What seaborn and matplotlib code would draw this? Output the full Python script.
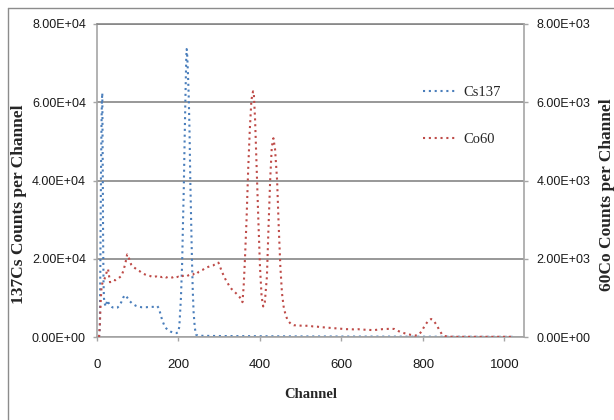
import matplotlib
matplotlib.use("Agg")
import matplotlib.pyplot as plt
import seaborn as sns
from matplotlib.ticker import FuncFormatter, FixedLocator
from matplotlib.lines import Line2D

# Cs-137 spectrum (left axis), counts per channel
cs_channel = [5, 7, 8, 9, 10, 11, 12, 13, 14, 15, 16, 17, 19, 22, 25, 28, 32,
              36, 40, 45, 50, 55, 60, 64, 68, 72, 76, 80, 85, 90, 95, 100, 110,
              120, 130, 140, 148, 152, 156, 160, 165, 170, 175, 180, 185, 190,
              195, 199, 202, 206, 209, 211, 213, 215, 217, 219, 220, 221, 223,
              225, 227, 229, 231, 233, 235, 237, 240, 243, 248, 260, 300, 400,
              500, 600, 700, 800, 900, 1020]
cs_counts = [0, 2500, 15000, 30000, 44000, 54000, 60500, 62400, 45000, 25000,
             14000, 10000, 8500, 7800, 9400, 8800, 8000, 7700, 7500, 7400, 7500,
             8000, 9000, 10000, 10700, 10400, 9800, 9200, 8700, 8300, 8000, 7800,
             7600, 7600, 7700, 7700, 7900, 7300, 5800, 4300, 3000, 2200, 1700,
             1400, 1200, 1000, 1000, 1200, 2600, 10000, 19000, 29000, 38000,
             50000, 61000, 71000, 73600, 73000, 68000, 62000, 53000, 40000,
             30000, 20000, 12000, 6500, 2400, 600, 350, 300, 250, 200, 150, 120,
             100, 80, 60, 40]

# Co-60 spectrum (right axis), counts per channel
co_channel = [5, 7, 9, 11, 13, 16, 19, 22, 25, 27, 29, 32, 36, 40, 45, 50, 55,
              60, 65, 70, 74, 77, 80, 84, 88, 92, 96, 100, 105, 110, 115, 120,
              125, 130, 135, 140, 145, 150, 155, 160, 165, 170, 175, 180, 185,
              190, 195, 200, 205, 210, 215, 220, 225, 230, 235, 240, 245, 250,
              255, 260, 265, 270, 275, 280, 285, 290, 295, 298, 302, 306, 310,
              315, 320, 325, 330, 335, 340, 345, 350, 354, 357, 360, 363, 367,
              371, 375, 379, 383, 385, 388, 392, 396, 400, 404, 408, 412, 417,
              421, 425, 429, 433, 437, 442, 446, 450, 454, 458, 462, 467, 471,
              477, 483, 490, 500, 510, 520, 530, 540, 550, 560, 570, 580, 590,
              600, 610, 620, 630, 640, 650, 660, 670, 680, 690, 700, 710, 720,
              730, 740, 750, 760, 770, 780, 790, 797, 805, 812, 820, 826, 834,
              840, 846, 852, 860, 880, 950, 1020]
co_counts = [0, 300, 900, 1250, 1370, 1420, 1500, 1600, 1700, 1740, 1600, 1400,
             1430, 1460, 1450, 1480, 1520, 1560, 1700, 1900, 2110, 2080, 1950,
             1850, 1800, 1770, 1740, 1700, 1680, 1640, 1610, 1590, 1570, 1560,
             1540, 1530, 1550, 1520, 1540, 1530, 1550, 1520, 1540, 1530, 1520,
             1550, 1530, 1540, 1520, 1560, 1570, 1550, 1580, 1600, 1590, 1640,
             1620, 1670, 1700, 1720, 1760, 1780, 1800, 1820, 1830, 1860, 1870,
             1900, 1800, 1680, 1590, 1480, 1390, 1300, 1230, 1180, 1130, 1080,
             1020, 960, 890, 1300, 1970, 2990, 4270, 5290, 6060, 6280, 6200,
             5550, 4270, 2990, 1800, 1030, 780, 900, 1540, 2820, 4010, 4860,
             5080, 4800, 4010, 2820, 1800, 1120, 780, 600, 450, 390, 320, 300,
             300, 290, 285, 290, 270, 265, 250, 245, 235, 225, 220, 210, 200,
             200, 195, 200, 190, 185, 180, 175, 190, 200, 205, 210, 205, 150,
             110, 80, 55, 35, 60, 150, 300, 400, 460, 420, 300, 180, 80, 30, 10,
             5, 5, 5]

x_ticks = [0, 200, 400, 600, 800, 1000]
left_ticks = [0, 20000, 40000, 60000, 80000]
right_ticks = [0, 2000, 4000, 6000, 8000]

BLUE = "#4a7ebb"
RED = "#be4b48"
GRID = "#868686"
SPINE = "#a6a6a6"
SERIF = ["Liberation Serif", "DejaVu Serif"]
TICK_SIZE = 9

sns.set_style("white")
plt.rcParams["font.family"] = ["Liberation Sans", "DejaVu Sans"]

W, H = 614, 420
fig = plt.figure(figsize=(W / 100, H / 100), dpi=100)
ax = fig.add_axes([97 / W, 1 - 337 / H, (524 - 97) / W, (337 - 24) / H])
ax2 = ax.twinx()

dots = (0, (1, 1.8))
sns.lineplot(x=cs_channel, y=cs_counts, ax=ax, color=BLUE, linewidth=1.5,
             linestyle=dots, label="Cs137", legend=False)
sns.lineplot(x=co_channel, y=co_counts, ax=ax2, color=RED, linewidth=1.5,
             linestyle=dots, label="Co60", legend=False)

ax.set_xlim(0, 1048)
ax.set_ylim(0, 80000)
ax2.set_ylim(0, 8000)

sci = FuncFormatter(lambda v, _: f"{v:.2E}")
ax.xaxis.set_major_locator(FixedLocator(x_ticks))
ax.yaxis.set_major_locator(FixedLocator(left_ticks))
ax2.yaxis.set_major_locator(FixedLocator(right_ticks))
ax.yaxis.set_major_formatter(sci)
ax2.yaxis.set_major_formatter(sci)

ax.yaxis.grid(True, color=GRID, linewidth=1.2)
ax.xaxis.grid(False)
ax2.grid(False)

for s in ("top", "right"):
    ax.spines[s].set_visible(False)
for s in ("left", "bottom"):
    ax.spines[s].set_color(SPINE)
    ax.spines[s].set_linewidth(1.2)
for s in ("left", "top", "bottom"):
    ax2.spines[s].set_visible(False)
ax2.spines["right"].set_color(SPINE)
ax2.spines["right"].set_linewidth(1.2)
ax2.axhline(8000, color=GRID, linewidth=1.2, clip_on=False)

ax.set_xlabel("")
ax.set_ylabel("")
ax2.set_ylabel("")

ax.tick_params(axis="y", direction="out", length=3, width=1, color=SPINE,
               labelsize=TICK_SIZE, pad=5, labelcolor="#1a1a1a", left=True)
ax.tick_params(axis="x", direction="out", length=3, width=1, color=SPINE,
               labelsize=TICK_SIZE + 0.5, pad=12.5, labelcolor="#1a1a1a",
               bottom=True)
ax2.tick_params(axis="y", direction="out", length=3, width=1, color=SPINE,
                labelsize=TICK_SIZE, pad=6, labelcolor="#1a1a1a", right=True)

# axis titles
fig.text(311 / W, 1 - 395 / H, "Channel", ha="center", va="center",
         family=SERIF, weight="bold", fontsize=10.5)
fig.text(19 / W, 1 - 204 / H, "137Cs Counts per Channel", ha="center",
         va="center", rotation=90, family=SERIF, weight="bold", fontsize=12.5)
fig.text(607 / W, 1 - 195 / H, "60Co Counts per Channel", ha="center",
         va="center", rotation=90, family=SERIF, weight="bold", fontsize=12.5)

# legend
handles = [Line2D([], [], color=BLUE, linewidth=1.5, linestyle=dots),
           Line2D([], [], color=RED, linewidth=1.5, linestyle=dots)]
fig.legend(handles, ["Cs137", "Co60"], loc="upper left",
           bbox_to_anchor=(423 / W, 1 - 86 / H), frameon=False,
           prop={"family": SERIF, "size": 10.5}, handlelength=2.4,
           handletextpad=0.4, labelspacing=2.3, borderpad=0, borderaxespad=0)

# chart frame
fig.add_artist(Line2D([8 / W, 1], [1 - 8 / H, 1 - 8 / H], color="#8c8c8c",
                      linewidth=1, transform=fig.transFigure))
fig.add_artist(Line2D([8 / W, 8 / W], [0, 1 - 8 / H], color="#8c8c8c",
                      linewidth=1, transform=fig.transFigure))

fig.savefig("out.png", dpi=100)
